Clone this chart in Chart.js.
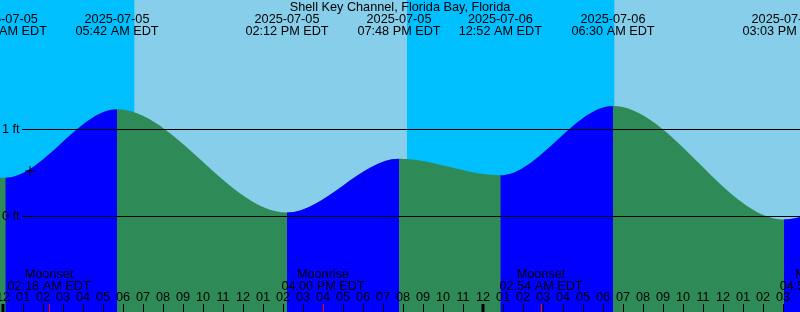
<!DOCTYPE html>
<html>
<head>
<meta charset="utf-8">
<script src="https://cdn.jsdelivr.net/npm/chart.js@4.4.1/dist/chart.umd.min.js"></script>
<style>
  html, body { margin: 0; padding: 0; background: #00bfff; }
  #tides { display: block; }
</style>
</head>
<body>
<canvas id="tides" width="800" height="312"></canvas>
<script>
const title = 'Shell Key Channel, Florida Bay, Florida'
// Highs and lows (first and last sit just outside the picture)
const tideDates = ['2025-07-04', '2025-07-05', '2025-07-05', '2025-07-05', '2025-07-05', '2025-07-06', '2025-07-06', '2025-07-06', '2025-07-06']
const tideTimes = ['07:05 PM', '12:07 AM', '05:42 AM', '02:12 PM', '07:48 PM', '12:52 AM', '06:30 AM', '03:03 PM', '08:40 PM']
const tideFeet = [0.64, 0.44, 1.23, 0.04, 0.66, 0.47, 1.27, -0.04, 0.68]
// Moon events along the bottom
const moonDates = ['2025-07-05', '2025-07-05', '2025-07-06', '2025-07-06']
const moonTimes = ['02:18 AM', '04:00 PM', '02:54 AM', '04:55 PM']
const moonNames = ['Moonset', 'Moonrise', 'Moonset', 'Moonrise']
// Sunrise / sunset / sunrise
const sunDates = ['2025-07-05', '2025-07-05', '2025-07-06']
const sunTimes = ['06:34 AM', '08:12 PM', '06:34 AM']
const feetTicks = [0, 1]
// the "+" marker
const nowDate = '2025-07-05'
const nowTime = '01:21 AM'
const nowFeet = 0.52

const NIGHT = '#00bfff'
const DAY = '#87ceeb'
const RISING = '#0000ff'
const FALLING = '#2e8b57'
const FONT = '12.7px "Liberation Sans", Arial, sans-serif'

// hours since 2025-07-05 00:00
function toHours(date, time) {
  const day = parseInt(date.slice(8, 10), 10) - 5
  let h = parseInt(time.slice(0, 2), 10) % 12
  const m = parseInt(time.slice(3, 5), 10)
  if (time.endsWith('PM')) h += 12
  return day * 24 + h + m / 60
}

// each dataset needs its own copy of the points
function tidePoints() {
  return tideDates.map((d, i) => ({ x: toHours(d, tideTimes[i]), y: tideFeet[i] }))
}
const hourMarks = []
for (let h = 0; h < 40; h++) hourMarks.push(h)

const decor = {
  id: 'decor',
  beforeDatasetsDraw(chart) {
    const { ctx, chartArea, scales: { x } } = chart
    ctx.save()
    ctx.fillStyle = NIGHT
    ctx.fillRect(0, 0, chart.width, chart.height)
    ctx.fillStyle = DAY
    for (let i = 0; i < sunDates.length; i += 2) {
      const a = x.getPixelForValue(toHours(sunDates[i], sunTimes[i]))
      const b = i + 1 < sunDates.length ? x.getPixelForValue(toHours(sunDates[i + 1], sunTimes[i + 1])) : chartArea.right
      ctx.fillRect(a, 0, b - a, chart.height)
    }
    ctx.restore()
  },
  afterDatasetsDraw(chart) {
    const { ctx, chartArea, scales: { x, y } } = chart
    ctx.save()
    ctx.font = FONT
    ctx.fillStyle = '#000'
    ctx.strokeStyle = '#000'
    ctx.lineWidth = 1

    // feet lines
    feetTicks.forEach(v => {
      const py = Math.round(y.getPixelForValue(v)) + 0.5
      ctx.beginPath()
      ctx.moveTo(22, py)
      ctx.lineTo(chartArea.right, py)
      ctx.stroke()
      ctx.textAlign = 'left'
      ctx.textBaseline = 'middle'
      ctx.fillText(v + ' ft', 2, py)
    })

    // title + tide event labels
    ctx.textAlign = 'center'
    ctx.fillText(title, chart.width / 2, 7)
    tideDates.forEach((d, i) => {
      const px = x.getPixelForValue(toHours(d, tideTimes[i]))
      ctx.fillText(d, px, 19)
      ctx.fillText(tideTimes[i] + ' EDT', px, 31)
    })

    // moon labels
    moonDates.forEach((d, i) => {
      const px = x.getPixelForValue(toHours(d, moonTimes[i]))
      ctx.fillText(moonNames[i], px, 274)
      ctx.fillText(moonTimes[i] + ' EDT', px, 286)
    })

    // hour labels and ticks
    hourMarks.forEach(h => {
      const px = x.getPixelForValue(h)
      const lbl = String((h % 12) || 12).padStart(2, '0')
      ctx.fillText(lbl, px, 297)
      ctx.lineWidth = h % 24 === 0 ? 3 : 1
      const tx = h % 24 === 0 ? Math.round(px) : Math.round(px) + 0.5
      ctx.beginPath()
      ctx.moveTo(tx, 304)
      ctx.lineTo(tx, 312)
      ctx.stroke()
    })
    ctx.strokeStyle = '#ff0000'
    ctx.lineWidth = 1
    moonDates.forEach((d, i) => {
      const px = Math.round(x.getPixelForValue(toHours(d, moonTimes[i]))) + 0.5
      ctx.beginPath()
      ctx.moveTo(px, 304)
      ctx.lineTo(px, 312)
      ctx.stroke()
    })
    ctx.restore()
  }
}

const tideLine = {
  fill: 'start',
  borderColor: 'rgba(0,0,0,0)',
  borderWidth: 0,
  pointRadius: 0,
  cubicInterpolationMode: 'monotone',
  capBezierPoints: false
}

new Chart(document.getElementById('tides'), {
  type: 'line',
  data: {
    datasets: [
      {
        data: [{ x: toHours(nowDate, nowTime), y: nowFeet }],
        showLine: false,
        pointStyle: 'cross',
        pointRadius: 5,
        borderColor: '#000',
        borderWidth: 1
      },
      // rising water in blue, on top of the falling colour
      Object.assign({}, tideLine, {
        data: tidePoints(),
        backgroundColor: RISING,
        segment: {
          backgroundColor: c => c.p1.parsed.y > c.p0.parsed.y ? RISING : 'rgba(0,0,0,0)'
        }
      }),
      // all water in the falling colour underneath
      Object.assign({}, tideLine, { data: tidePoints(), backgroundColor: FALLING })
    ]
  },
  options: {
    responsive: false,
    animation: false,
    layout: { padding: 0, autoPadding: false },
    plugins: { legend: { display: false }, tooltip: { enabled: false } },
    scales: {
      x: { type: 'linear', min: -0.15, max: 39.85, display: false },
      y: { min: -1.107, max: 2.491, display: false }
    }
  },
  plugins: [decor]
})
</script>
</body>
</html>
